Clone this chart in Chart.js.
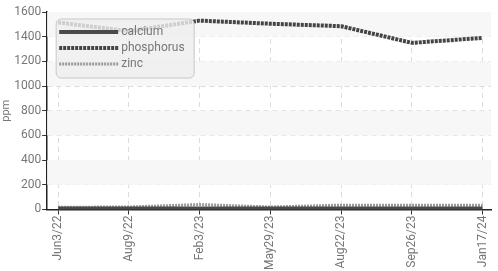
<!DOCTYPE html>
<html>
<head>
<meta charset="utf-8">
<script src="https://cdn.jsdelivr.net/npm/chart.js@4"></script>
<style>
  html, body { margin: 0; padding: 0; background: #fff; }
  #wrap { width: 498px; height: 271px; }
</style>
</head>
<body>
<div id="wrap"><canvas id="mineralChart"></canvas></div>
<script>
// sample dates and measured values (ppm)
const dates = ['Jun3/22', 'Aug9/22', 'Feb3/23', 'May29/23', 'Aug22/23', 'Sep26/23', 'Jan17/24'];
const calcium = [8, 8, 8, 8, 8, 8, 8];
const phosphorus = [1515, 1445, 1530, 1505, 1485, 1350, 1390];
const zinc = [18, 20, 40, 20, 35, 35, 35];
const yTicks = [0, 200, 400, 600, 800, 1000, 1200, 1400, 1600];

const toPoints = arr => arr.map((v, i) => ({ x: i, y: v }));

// light bands behind every other y interval
const bandPlugin = {
  id: 'bands',
  beforeDatasetsDraw(chart) {
    const { ctx, chartArea, scales: { y } } = chart;
    ctx.save();
    ctx.fillStyle = '#f7f7f7';
    for (let i = 1; i < yTicks.length - 1; i += 2) {
      const top = y.getPixelForValue(yTicks[i + 1]);
      const bot = y.getPixelForValue(yTicks[i]);
      ctx.fillRect(chartArea.left, top, chartArea.right - chartArea.left, bot - top);
    }
    ctx.restore();
  }
};

// legend box drawn inside the plot, top-left
const legendPlugin = {
  id: 'boxLegend',
  afterDatasetsDraw(chart) {
    const { ctx, chartArea } = chart;
    const x0 = chartArea.left + 9, y0 = chartArea.top + 7;
    const w = 138, h = 59;
    ctx.save();
    ctx.beginPath();
    ctx.roundRect(x0, y0, w, h, 5);
    ctx.fillStyle = 'rgba(238,238,238,0.82)';
    ctx.fill();
    ctx.strokeStyle = '#c8c8c8';
    ctx.lineWidth = 1;
    ctx.stroke();
    ctx.font = '12px Roboto';
    ctx.textBaseline = 'middle';
    chart.data.datasets.forEach((ds, i) => {
      const ly = y0 + 13 + i * 16;
      ctx.beginPath();
      ctx.setLineDash(ds.borderDash || []);
      ctx.lineWidth = ds.borderWidth;
      ctx.strokeStyle = ds.borderColor;
      ctx.moveTo(x0 + 3, ly);
      ctx.lineTo(x0 + 62, ly);
      ctx.stroke();
      ctx.setLineDash([]);
      ctx.fillStyle = '#777';
      ctx.fillText(ds.label, x0 + 65, ly);
    });
    ctx.restore();
  }
};

new Chart(document.getElementById('mineralChart'), {
  type: 'line',
  data: {
    datasets: [
      { label: 'calcium', data: toPoints(calcium), borderColor: '#4a4a4a', borderWidth: 4, pointRadius: 0 },
      { label: 'phosphorus', data: toPoints(phosphorus), borderColor: '#444', borderWidth: 4, borderDash: [3, 1], pointRadius: 0 },
      { label: 'zinc', data: toPoints(zinc), borderColor: '#9a9a9a', borderWidth: 3, borderDash: [2, 1], pointRadius: 0 }
    ]
  },
  options: {
    responsive: true,
    maintainAspectRatio: false,
    animation: false,
    layout: { padding: { top: 12, right: 1, left: 0, bottom: 0 } },
    plugins: { legend: { display: false }, tooltip: { enabled: false } },
    scales: {
      x: {
        type: 'linear',
        min: -0.155,
        max: 6.12,
        ticks: {
          stepSize: 1,
          includeBounds: false,
          maxRotation: 90,
          minRotation: 90,
          color: '#777',
          font: { family: 'Roboto', size: 12 },
          padding: 1,
          callback: v => dates[v] ?? ''
        },
        grid: { color: '#dcdcdc', tickColor: '#333', tickLength: 5 },
        border: { color: '#222', width: 1.5, dash: [5, 4] }
      },
      y: {
        min: 0,
        max: 1600,
        ticks: {
          stepSize: 200,
          color: '#777',
          font: { family: 'Roboto', size: 12 },
          padding: 1,
          callback: v => String(v)
        },
        grid: { color: '#dcdcdc', tickColor: '#333', tickLength: 5 },
        border: { color: '#222', width: 1.5, dash: [5, 4] },
        title: { display: true, text: 'ppm', color: '#777', font: { family: 'Roboto', size: 11 }, padding: { top: 0, bottom: 0 } }
      }
    }
  },
  plugins: [bandPlugin, legendPlugin]
});
</script>
</body>
</html>
